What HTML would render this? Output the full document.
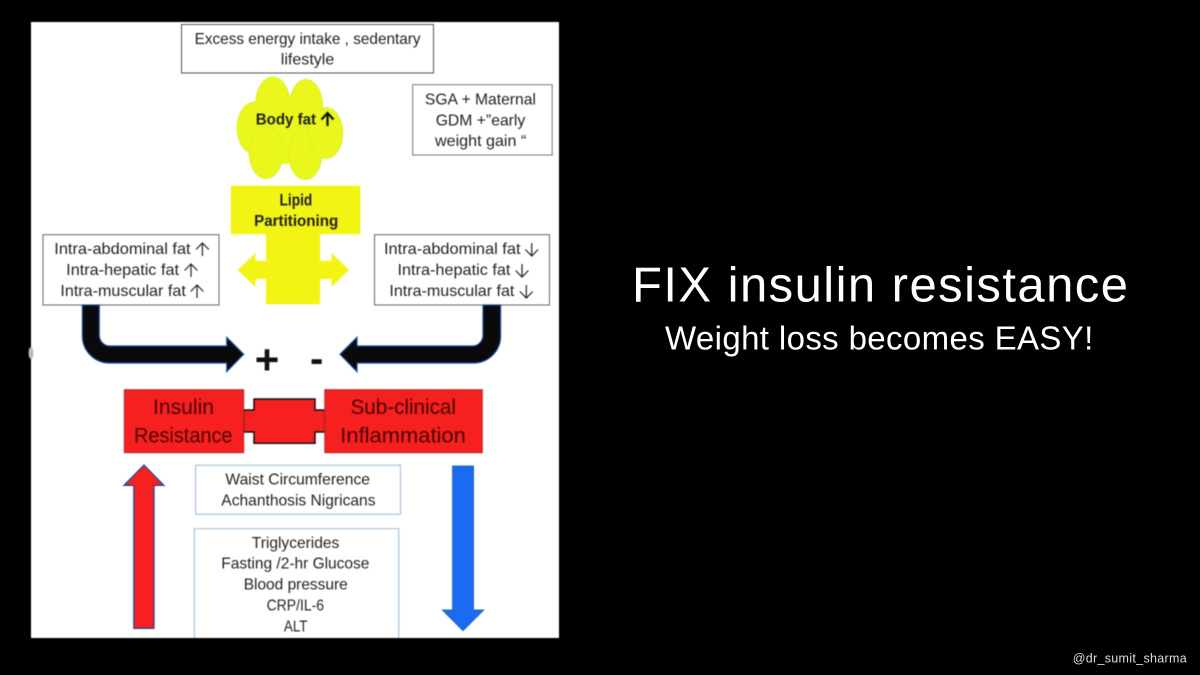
<!DOCTYPE html>
<html><head><meta charset="utf-8"><style>
html,body{margin:0;padding:0;background:#000;width:1200px;height:675px;overflow:hidden}
svg{display:block}
.d text{font-family:"Liberation Sans",sans-serif;font-size:16px;fill:#222}
.b{font-weight:bold}
.ar{fill:none;stroke:#222;stroke-width:1.2}
</style></head><body>
<svg width="1200" height="675" viewBox="0 0 1200 675" xmlns="http://www.w3.org/2000/svg">
<rect width="1200" height="675" fill="#000"/>
<g class="d" style="filter:blur(.45px)">
<rect x="31" y="22" width="528" height="616" fill="#fff"/>
<ellipse cx="31" cy="353" rx="2.5" ry="6" fill="#bbb"/>
<!-- top boxes -->
<rect x="181.5" y="24.5" width="252" height="48.5" fill="#fff" stroke="#555" stroke-width="1"/>
<text x="194.6" y="44" textLength="226" lengthAdjust="spacingAndGlyphs">Excess energy intake , sedentary</text>
<text x="280.8" y="64.7" textLength="53.5" lengthAdjust="spacingAndGlyphs">lifestyle</text>
<rect x="412.7" y="84.7" width="139.5" height="70.3" fill="#fff" stroke="#777" stroke-width="1"/>
<text x="424.9" y="104.3" textLength="111" lengthAdjust="spacingAndGlyphs">SGA + Maternal</text>
<text x="435.7" y="125.3" textLength="89.6" lengthAdjust="spacingAndGlyphs">GDM +”early</text>
<text x="435" y="146" textLength="91.3" lengthAdjust="spacingAndGlyphs">weight gain “</text>
<!-- body fat -->
<g fill="#e9f71c" stroke="#d5ee30" stroke-width=".8">
<ellipse cx="255" cy="128" rx="18" ry="26"/>
<ellipse cx="272.7" cy="103" rx="17" ry="26"/>
<ellipse cx="306" cy="105.5" rx="16.5" ry="26"/>
<rect x="258" y="100" width="62" height="64" stroke="none"/>
<ellipse cx="266" cy="152.5" rx="17" ry="26"/>
<ellipse cx="305.3" cy="153.5" rx="16.7" ry="26"/>
<ellipse cx="325.8" cy="133" rx="17" ry="25.5"/>
</g>
<text x="255.8" y="124.3" class="b" textLength="60.2" lengthAdjust="spacingAndGlyphs">Body fat</text>
<path d="M327.5 126V113.5M321.5 119.5L327.5 113L333.5 119.5" fill="none" stroke="#111" stroke-width="2.2"/>
<!-- lipid -->
<rect x="230.8" y="185.7" width="129.5" height="48.6" fill="#f2f514"/>
<path d="M266 234H320V260.7H331.5V253L349 270L331.5 287V279H320V304.3H266V279H255.5V287L237.6 270L255.5 253V260.7H266Z" fill="#f2f514"/>
<text x="279.5" y="205.3" class="b" style="font-size:17px" textLength="32.8" lengthAdjust="spacingAndGlyphs">Lipid</text>
<text x="254.1" y="226" class="b" textLength="84.2" lengthAdjust="spacingAndGlyphs">Partitioning</text>
<!-- side boxes -->
<rect x="43" y="234.7" width="176" height="70.3" fill="#fff" stroke="#666" stroke-width="1"/>
<text x="54.3" y="254" textLength="136.3" lengthAdjust="spacingAndGlyphs">Intra-abdominal fat</text>
<path class="ar" d="M202.4 256V243M196 249.5L202.4 243L208.8 249.5"/>
<text x="66.2" y="275" textLength="112.8" lengthAdjust="spacingAndGlyphs">Intra-hepatic fat</text>
<path class="ar" d="M191 277V264M184.6 270.5L191 264L197.4 270.5"/>
<text x="60.4" y="296" textLength="125.4" lengthAdjust="spacingAndGlyphs">Intra-muscular fat</text>
<path class="ar" d="M197 298V285M190.6 291.5L197 285L203.4 291.5"/>
<rect x="374.5" y="234.7" width="175" height="70.3" fill="#fff" stroke="#666" stroke-width="1"/>
<text x="384" y="254" textLength="136.5" lengthAdjust="spacingAndGlyphs">Intra-abdominal fat</text>
<path class="ar" d="M531.7 243V256M525.3 249.5L531.7 256L538.1 249.5"/>
<text x="397.5" y="275" textLength="112.9" lengthAdjust="spacingAndGlyphs">Intra-hepatic fat</text>
<path class="ar" d="M522 264V277M515.6 270.5L522 277L528.4 270.5"/>
<text x="389.4" y="296" textLength="125" lengthAdjust="spacingAndGlyphs">Intra-muscular fat</text>
<path class="ar" d="M526.3 285V298M519.9 291.5L526.3 298L532.7 291.5"/>
<!-- black arrows -->
<path d="M82.4 305V336A27 27 0 0 0 109.4 363H226.7V371.7L243.7 354.3L226.7 337.3V346H110A10.7 10.7 0 0 1 99.3 335.3V305Z" fill="#0a0a0a" stroke="#1f4e9c" stroke-width="1.2"/>
<path d="M500.6 305V336A27 27 0 0 1 473.6 363H357V371.7L340 354.3L357 337.3V346H472.3A10.7 10.7 0 0 0 483 335.3V305Z" fill="#0a0a0a" stroke="#1f4e9c" stroke-width="1.2"/>
<text x="267" y="374" class="b" text-anchor="middle" style="font-size:42px;fill:#111">+</text>
<text x="316.7" y="372" class="b" text-anchor="middle" style="font-size:40px;fill:#111">-</text>
<!-- red -->
<path d="M243.7 410H254V399H315V410H325V432H315V443.3H254V432H243.7Z" fill="#f5201f" stroke="#111" stroke-width="1.5"/>
<rect x="124.3" y="389.7" width="119.4" height="63" fill="#f5201f" stroke="#b52a2a" stroke-width="1"/>
<rect x="324.8" y="389.7" width="157.5" height="63" fill="#f5201f" stroke="#b52a2a" stroke-width="1"/>
<text x="153" y="414" textLength="61" lengthAdjust="spacingAndGlyphs" style="font-size:21px;fill:#4a0505">Insulin</text>
<text x="134" y="442.5" textLength="98.5" lengthAdjust="spacingAndGlyphs" style="font-size:21px;fill:#4a0505">Resistance</text>
<text x="350.5" y="414" textLength="105.5" lengthAdjust="spacingAndGlyphs" style="font-size:21px;fill:#4a0505">Sub-clinical</text>
<text x="340.3" y="442.5" textLength="125.5" lengthAdjust="spacingAndGlyphs" style="font-size:21px;fill:#4a0505">Inflammation</text>
<!-- vertical arrows -->
<path d="M133.8 628.3V485.3H124L144 465L163.9 485.3H154V628.3Z" fill="#f5201f" stroke="#27489c" stroke-width="1.3"/>
<path d="M452.6 466H473.5V610H483.7L463 630.7L442.4 610H452.6Z" fill="#1a6bf0" stroke="#2a62c8" stroke-width="1"/>
<!-- lower boxes -->
<rect x="195.6" y="465.3" width="204.9" height="49" fill="#fff" stroke="#a9c3dc" stroke-width="1.2"/>
<text x="225.4" y="484.7" textLength="144.6" lengthAdjust="spacingAndGlyphs">Waist Circumference</text>
<text x="221.3" y="505.3" textLength="154.2" lengthAdjust="spacingAndGlyphs">Achanthosis Nigricans</text>
<path d="M194.3 638V528.7H398.8V638" fill="#fff" stroke="#a9c3dc" stroke-width="1.2"/>
<text x="251.8" y="548" textLength="87.5" lengthAdjust="spacingAndGlyphs">Triglycerides</text>
<text x="221.3" y="568.7" textLength="148.1" lengthAdjust="spacingAndGlyphs">Fasting /2-hr Glucose</text>
<text x="243.7" y="589.7" textLength="104.1" lengthAdjust="spacingAndGlyphs">Blood pressure</text>
<text x="266.6" y="610.7" textLength="57.4" lengthAdjust="spacingAndGlyphs">CRP/IL-6</text>
<text x="283.9" y="631.7" textLength="23.6" lengthAdjust="spacingAndGlyphs">ALT</text>
</g>
<g fill="#fff" font-family="'Liberation Sans',sans-serif">
<text x="632" y="301.7" font-size="49" textLength="496" lengthAdjust="spacing">FIX insulin resistance</text>
<text x="665" y="349.3" font-size="33" textLength="428.3" lengthAdjust="spacing">Weight loss becomes EASY!</text>
<text x="1072.7" y="662.7" font-size="12.5" fill="#dcdcdc" textLength="114" lengthAdjust="spacing">@dr_sumit_sharma</text>
</g>
</svg>
</body></html>
